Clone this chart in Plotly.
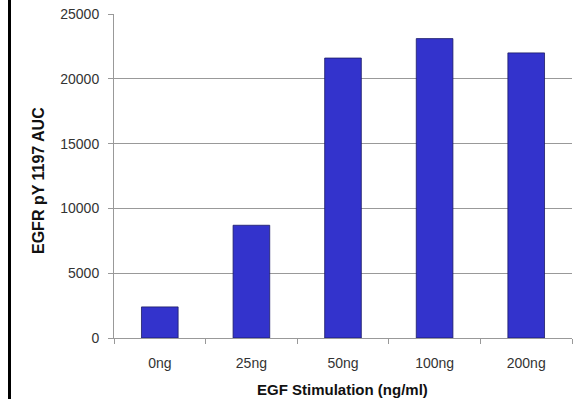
import plotly.graph_objects as go

# EGF dose response: EGFR pY1197 area under curve
doses = ["0ng", "25ng", "50ng", "100ng", "200ng"]
auc_values = [2400, 8700, 21600, 23100, 22000]
y_ticks = [0, 5000, 10000, 15000, 20000, 25000]
y_tick_text = [str(v) for v in y_ticks]

W, H = 577, 399
ML, MR, MT, MB = 114, 5, 14, 61
plot_w = W - ML - MR
plot_h = H - MT - MB


def px_x(p):
    return (p - ML) / plot_w


def px_y(p):
    return (H - MB - p) / plot_h


fig = go.Figure(
    go.Bar(
        x=doses,
        y=auc_values,
        marker=dict(color="#3333cc", line=dict(color="#1a1a66", width=0.8)),
        width=0.4,
    )
)

fig.update_layout(
    width=W,
    height=H,
    margin=dict(l=ML, r=MR, t=MT, b=MB),
    paper_bgcolor="white",
    plot_bgcolor="white",
    showlegend=False,
    font=dict(family="Liberation Sans, Arial, sans-serif", size=14, color="#333"),
    xaxis=dict(
        showgrid=False,
        showline=True,
        linecolor="#999",
        linewidth=1,
        ticks="outside",
        tickson="boundaries",
        ticklen=5,
        tickcolor="#999",
        ticklabelstandoff=12,
        tickfont=dict(size=14, color="#333"),
    ),
    yaxis=dict(
        range=[0, 25000],
        tickvals=y_ticks,
        ticktext=y_tick_text,
        showgrid=True,
        gridcolor="#999",
        gridwidth=1,
        showline=True,
        linecolor="#999",
        linewidth=1,
        ticks="outside",
        ticklen=5,
        tickcolor="#999",
        ticklabelstandoff=6,
        tickfont=dict(size=14, color="#333"),
        zeroline=False,
    ),
)

# axis titles
fig.add_annotation(
    text="<b>EGF Stimulation (ng/ml)</b>",
    xref="paper", yref="paper",
    x=px_x(342), y=px_y(389),
    xanchor="center", yanchor="middle",
    showarrow=False,
    font=dict(size=15, color="#111"),
)
fig.add_annotation(
    text="<b>EGFR pY 1197 AUC</b>",
    xref="paper", yref="paper",
    x=px_x(38), y=px_y(181),
    xanchor="center", yanchor="middle",
    textangle=-90,
    showarrow=False,
    font=dict(size=16, color="#111"),
)

# black rule along the left edge of the figure
x_px = 9.5
fig.add_shape(
    type="line",
    xref="paper",
    yref="paper",
    x0=px_x(x_px),
    x1=px_x(x_px),
    y0=px_y(H),
    y1=px_y(0),
    line=dict(color="black", width=3),
)

fig.write_html("out.html")
